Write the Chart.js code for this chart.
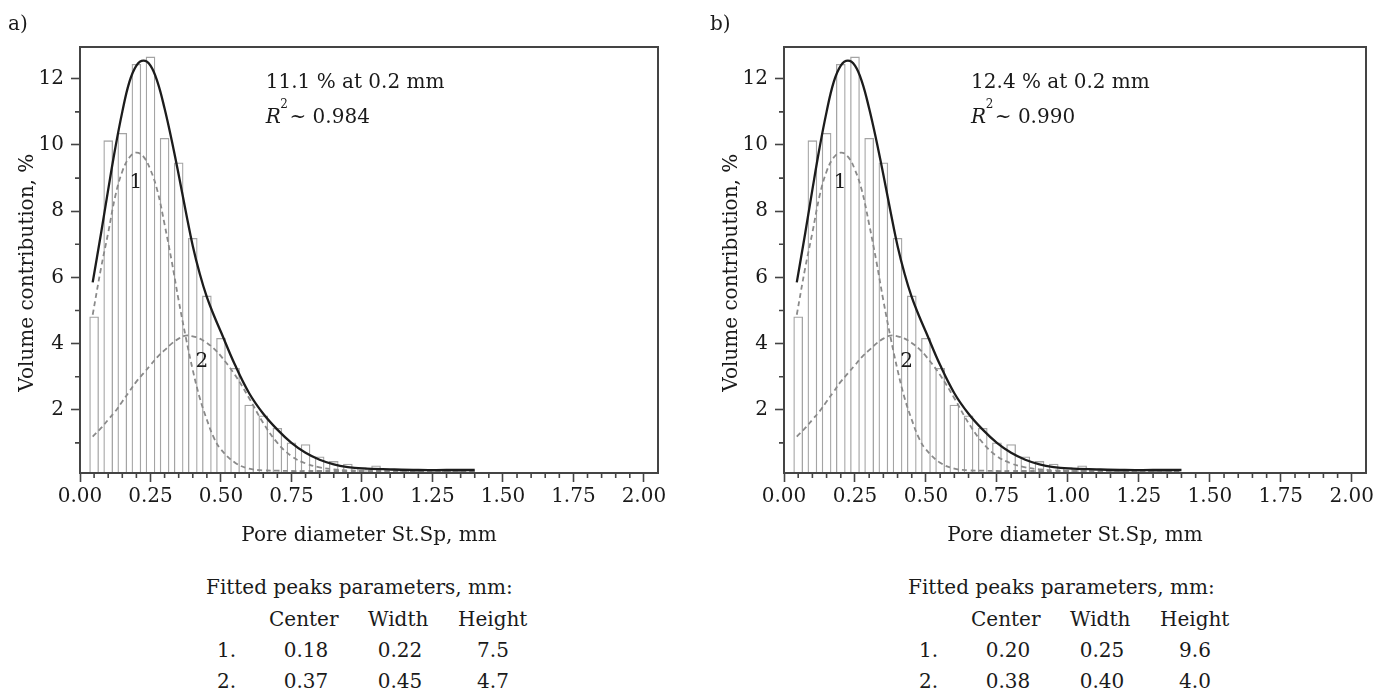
<!DOCTYPE html>
<html>
<head>
<meta charset="utf-8">
<title>Pore diameter distribution</title>
<script src="https://cdn.jsdelivr.net/npm/chart.js@4.4.1/dist/chart.umd.min.js"></script>
<style>
  html, body { margin:0; padding:0; background:#fff; }
  body { width:1390px; height:697px; position:relative; overflow:hidden; font-family:"DejaVu Serif", serif; color:#1a1a1a; }
  canvas { position:absolute; top:0; }
  .txt { position:absolute; font-size:20px; line-height:20px; white-space:nowrap; }
  .num { position:absolute; font-size:20px; line-height:20px; white-space:nowrap; width:100px; text-align:center; }
</style>
</head>
<body>
<canvas id="chartA" width="690" height="560" style="left:0px"></canvas>
<canvas id="chartB" width="686" height="560" style="left:704px"></canvas>
<div id="notes"></div>
<script>
// ---------- data ----------
const binCenters = [0.05,0.10,0.15,0.20,0.25,0.30,0.35,0.40,0.45,0.50,0.55,0.60,0.65,0.70,0.75,0.80,0.85,0.90,0.95,1.00,1.05,1.10,1.15,1.20,1.25,1.30,1.35];
const volumeContribution = [4.82,10.14,10.36,12.45,12.67,10.21,9.47,7.19,5.45,4.17,3.26,2.15,1.83,1.45,1.01,0.96,0.59,0.45,0.37,0.26,0.32,0.19,0.17,0.16,0.17,0.15,0.16];

const curveX   = [0.045,0.075,0.10,0.125,0.15,0.175,0.20,0.225,0.25,0.275,0.30,0.325,0.35,0.375,0.40,0.425,0.45,0.475,0.50,0.55,0.60,0.65,0.70,0.75,0.80,0.85,0.90,0.95,1.00,1.10,1.20,1.30,1.40];
const fitTotal = [5.85,7.35,8.65,9.9,11.0,11.9,12.4,12.55,12.4,11.9,11.1,10.15,9.1,8.0,6.95,6.1,5.4,4.85,4.35,3.35,2.5,1.88,1.40,1.0,0.7,0.49,0.35,0.27,0.23,0.2,0.18,0.18,0.18];
const peak1    = [4.87,6.3,7.35,8.45,9.2,9.62,9.77,9.65,9.25,8.6,7.6,6.5,5.3,4.2,3.2,2.35,1.7,1.15,0.8,0.4,0.22,0.17,0.16,0.15,0.15,0.15,0.15,0.15,0.15,0.15,0.14,0.14,0.14];
const peak2    = [1.19,1.45,1.7,1.95,2.25,2.55,2.85,3.1,3.35,3.6,3.8,4.0,4.15,4.24,4.22,4.15,4.02,3.85,3.62,3.05,2.35,1.6,1.0,0.6,0.38,0.26,0.2,0.17,0.16,0.15,0.15,0.15,0.14];

const xTickValues = [0,0.25,0.5,0.75,1,1.25,1.5,1.75,2];
const xMinorTicks = [0.05,0.1,0.15,0.2,0.3,0.35,0.4,0.45,0.55,0.6,0.65,0.7,0.8,0.85,0.9,0.95,1.05,1.1,1.15,1.2,1.3,1.35,1.4,1.45,1.55,1.6,1.65,1.7,1.8,1.85,1.9,1.95];
const yTickValues = [2,4,6,8,10,12];
const yMinorTicks = [1,3,5,7,9,11];

const panelLabels = ['a)','b)'];
const maxLabels = ['11.1 % at 0.2 mm','12.4 % at 0.2 mm'];
const r2Values = ['0.984','0.990'];
const peakNames = ['1','2'];
const xTitle = 'Pore diameter St.Sp, mm';
const yTitle = 'Volume contribution, %';
const tableTitle = 'Fitted peaks parameters, mm:';
const tableHeaders = ['Center','Width','Height'];
const rowLabels = ['1.','2.'];
const peakCenters = [['0.18','0.37'],['0.20','0.38']];
const peakWidths  = [['0.22','0.45'],['0.25','0.40']];
const peakHeights = [['7.5','4.7'],['9.6','4.0']];

// ---------- drawing ----------
const FONT = '"DejaVu Serif", serif';
Chart.defaults.font.family = FONT;
Chart.defaults.color = '#1a1a1a';

const framePlugin = {
  id: 'frame',
  afterDatasetsDraw(chart, args, opts) {
    const {ctx, scales: {x, y}} = chart;
    ctx.save();
    ctx.fillStyle = '#1a1a1a';
    ctx.font = '20px ' + FONT;
    ctx.textAlign = 'center';
    ctx.textBaseline = 'middle';
    ctx.fillText(peakNames[0], x.getPixelForValue(0.198), y.getPixelForValue(8.85));
    ctx.fillText(peakNames[1], x.getPixelForValue(0.432), y.getPixelForValue(3.46));
    ctx.textAlign = 'left';
    ctx.textBaseline = 'alphabetic';
    const sx = x.getPixelForValue(0.659);
    ctx.fillText(opts.maxText, sx, y.getPixelForValue(11.72));
    const by = y.getPixelForValue(10.66);
    ctx.font = 'italic 20px ' + FONT;
    ctx.fillText('R', sx, by);
    let w = ctx.measureText('R').width;
    ctx.font = '12px ' + FONT;
    ctx.fillText('2', sx + w - 0.5, by - 15);
    w += ctx.measureText('2').width + 1;
    ctx.font = '20px ' + FONT;
    ctx.fillText('~ ' + opts.r2, sx + w, by);
    ctx.restore();
  },
  afterDraw(chart) {
    const {ctx, chartArea: a, scales: {x, y}} = chart;
    ctx.save();
    ctx.strokeStyle = '#444';
    ctx.lineWidth = 1.6;
    ctx.beginPath();
    xMinorTicks.forEach(v => { const px = x.getPixelForValue(v); ctx.moveTo(px, a.bottom); ctx.lineTo(px, a.bottom + 5); });
    yMinorTicks.forEach(v => { const py = y.getPixelForValue(v); ctx.moveTo(a.left, py); ctx.lineTo(a.left - 5, py); });
    ctx.stroke();
    ctx.lineWidth = 2;
    ctx.strokeRect(a.left, a.top, a.right - a.left, a.bottom - a.top);
    ctx.restore();
  }
};

function makeChart(id, p) {
  const lineCommon = { type: 'line', pointRadius: 0, tension: 0.4, fill: false };
  return new Chart(document.getElementById(id), {
    type: 'bar',
    data: {
      datasets: [
        Object.assign({}, lineCommon, { label: 'Fit', data: curveX.map((v, i) => ({x: v, y: fitTotal[i]})), borderColor: '#1c1c1c', borderWidth: 2.3, order: 0 }),
        Object.assign({}, lineCommon, { label: 'Peak 1', data: curveX.map((v, i) => ({x: v, y: peak1[i]})), borderColor: '#8a8a8a', borderWidth: 1.8, borderDash: [5, 3.5], order: 1 }),
        Object.assign({}, lineCommon, { label: 'Peak 2', data: curveX.map((v, i) => ({x: v, y: peak2[i]})), borderColor: '#8a8a8a', borderWidth: 1.8, borderDash: [5, 3.5], order: 2 }),
        { type: 'bar', label: 'Volume contribution', data: binCenters.map((v, i) => ({x: v, y: volumeContribution[i]})),
          backgroundColor: 'rgba(255,255,255,0)', borderColor: '#a4a4a4', borderWidth: 1.3,
          barPercentage: 0.68, categoryPercentage: 1.0, clip: 0, order: 3 }
      ]
    },
    options: {
      responsive: false, animation: false, devicePixelRatio: 1,
      layout: { padding: { top: 47, right: p === 0 ? 32 : 24, bottom: 7, left: 0 } },
      plugins: {
        legend: { display: false }, tooltip: { enabled: false },
        frame: { maxText: maxLabels[p], r2: r2Values[p] }
      },
      scales: {
        x: {
          type: 'linear', min: 0, max: 2.05, offset: false,
          grid: { offset: false, drawOnChartArea: false, drawTicks: true, tickLength: 9, tickWidth: 1.6, tickColor: '#444' },
          border: { display: false },
          afterBuildTicks: s => { s.ticks = xTickValues.map(v => ({value: v})); },
          afterFit: s => { s.height = 80; },
          ticks: { autoSkip: false, maxRotation: 0, minRotation: 0, padding: 3, color: '#1a1a1a',
                   font: { family: FONT, size: 20 }, callback: v => Number(v).toFixed(2) },
          title: { display: true, text: xTitle, color: '#1a1a1a',
                   font: { family: FONT, size: 20 }, padding: { top: 0, bottom: 5 } }
        },
        y: {
          type: 'linear', min: 0.09, max: 12.96,
          grid: { drawOnChartArea: false, drawTicks: true, tickLength: 9, tickWidth: 1.6, tickColor: '#444' },
          border: { display: false },
          afterBuildTicks: s => { s.ticks = yTickValues.map(v => ({value: v})); },
          afterFit: s => { s.width = 80; },
          ticks: { autoSkip: false, padding: 7, color: '#1a1a1a',
                   font: { family: FONT, size: 20 }, callback: v => String(v) },
          title: { display: true, text: yTitle + '    ', color: '#1a1a1a',
                   font: { family: FONT, size: 20 }, padding: { top: 16, bottom: 0 } }
        }
      }
    },
    plugins: [framePlugin]
  });
}

makeChart('chartA', 0);
makeChart('chartB', 1);

// ---------- text below the charts ----------
const notes = document.getElementById('notes');
function addText(txt, left, top, cls) {
  const d = document.createElement('div');
  d.className = cls;
  d.textContent = txt;
  d.style.left = left + 'px';
  d.style.top = top + 'px';
  notes.appendChild(d);
}
const panelOffsets = [0, 702];
const headerLefts = [269, 368, 458];
const colCenters = [306, 400, 493];
const rowTops = [640.1, 671.1];
panelLabels.forEach((lab, p) => {
  const ox = panelOffsets[p];
  addText(lab, 8 + ox, 13.1, 'txt');
  addText(tableTitle, 206 + ox, 577.1, 'txt');
  tableHeaders.forEach((h, j) => addText(h, headerLefts[j] + ox, 609.1, 'txt'));
  rowLabels.forEach((rl, r) => {
    addText(rl, 217 + ox, rowTops[r], 'txt');
    addText(peakCenters[p][r], colCenters[0] - 50 + ox, rowTops[r], 'num');
    addText(peakWidths[p][r],  colCenters[1] - 50 + ox, rowTops[r], 'num');
    addText(peakHeights[p][r], colCenters[2] - 50 + ox, rowTops[r], 'num');
  });
});
</script>
</body>
</html>
